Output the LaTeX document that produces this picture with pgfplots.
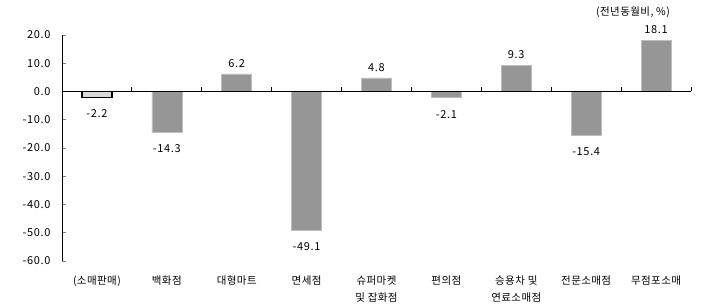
\documentclass[border=0pt]{standalone}
\usepackage{pgfplots}
\pgfplotsset{compat=1.18}
\usepackage{fontspec}
\setmainfont{Noto Sans CJK KR}
\definecolor{barg}{HTML}{969696}
\definecolor{bare}{HTML}{BDBDBD}
\begin{document}
\begin{tikzpicture}
\pgfplotstableread{
x y
1 -14.3
3 -49.1
5 -2.1
7 -15.4
}\negdata
\pgfplotstableread{
x y
2 6.2
4 4.8
6 9.3
8 18.1
}\posdata
\begin{axis}[name=ax, scale only axis, width=629pt, height=226pt,
  xmin=-0.5, xmax=8.5, ymin=-60, ymax=20,
  axis lines*=left, x axis line style={draw=none},
  y axis line style={line width=0.8pt},
  clip=false,
  ytick={-60,-50,...,20},
  /pgf/number format/assume math mode=true,
  yticklabel style={/pgf/number format/fixed, /pgf/number format/precision=1, /pgf/number format/fixed zerofill, font=\fontsize{11}{13}\selectfont\addfontfeature{LetterSpace=6}, xshift=-8pt},
  ytick style={line width=0.8pt},
  tick align=inside, major tick length=4pt,
  xtick={0,...,8},
  xticklabels={(소매판매),백화점,대형마트,면세점,슈퍼마켓\\및 잡화점,편의점,승용차 및\\연료소매점,전문소매점,무점포소매},
  major x tick style={draw=none},
  x tick label style={align=center, font=\fontsize{10.5}{17}\selectfont\addfontfeature{LetterSpace=4}, yshift=-7pt},
  ybar, bar width=30pt, bar shift=0pt,
  nodes near coords={\pgfmathprintnumber[fixed,precision=1,fixed zerofill]{\pgfplotspointmeta}},
  every node near coord/.append style={font=\fontsize{11}{13}\selectfont\addfontfeature{LetterSpace=6}},
]
\addplot[draw=black, line width=1.2pt, fill=gray!30,
  every node near coord/.append style={anchor=north, yshift=-8pt}]
  coordinates {(0,-2.2)};
\addplot[draw=bare, line width=0.5pt, fill=barg,
  every node near coord/.append style={anchor=north, yshift=-9pt}]
  table[x=x,y=y] {\negdata};
\addplot[draw=bare, line width=0.5pt, fill=barg,
  every node near coord/.append style={anchor=south, yshift=3pt}]
  table[x=x,y=y] {\posdata};
\draw[black, line width=0.9pt] (axis cs:-0.5,0) -- (axis cs:8.5,0);
\pgfplotsinvokeforeach{0.5,1.5,2.5,3.5,4.5,5.5,6.5,7.5,8.5}{
  \draw[black, line width=0.8pt] (axis cs:#1,0) -- ++(0pt,4pt);
}
\node[font=\fontsize{10.5}{12}\selectfont\addfontfeature{LetterSpace=4}] at ([xshift=-58pt,yshift=23pt]rel axis cs:1,1) {(전년동월비, \%)};
\end{axis}
\path ([xshift=-62pt,yshift=-47pt]ax.south west) rectangle ([xshift=29pt,yshift=35pt]ax.north east);
\end{tikzpicture}
\end{document}
